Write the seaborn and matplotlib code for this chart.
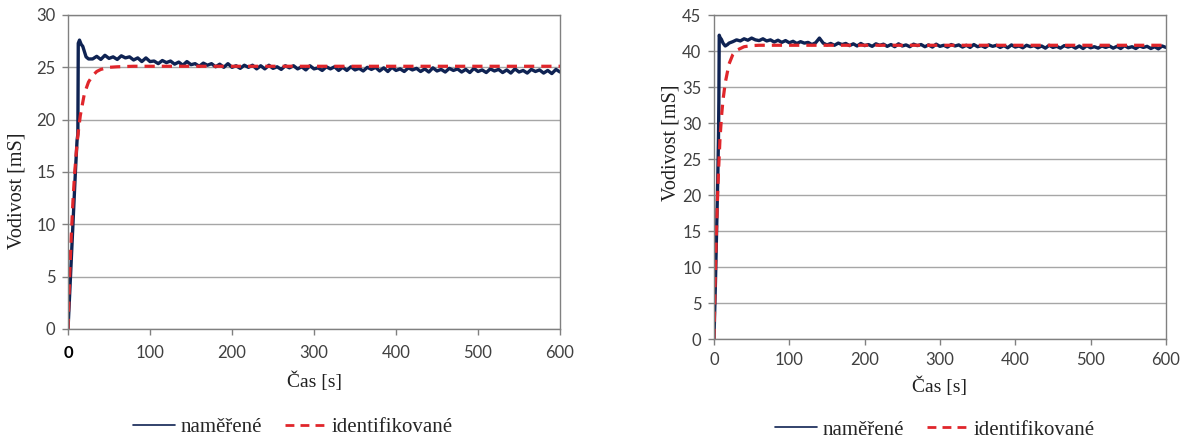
import numpy as np
import pandas as pd
import matplotlib
matplotlib.use("Agg")
import matplotlib.pyplot as plt
from matplotlib.font_manager import FontProperties
import seaborn as sns

# ---- data ----
# left chart: measured conductivity (start + tail sampled every 5 s)
left_meas_t_head = [0, 3, 6, 9, 11, 12, 12.5, 14, 16, 18, 20, 22]
left_meas_y_head = [0, 5, 10, 15, 18, 18.6, 27.3, 27.6, 27.2, 27.0, 26.5, 26.0]
left_meas_y_tail = [
    25.8, 25.8, 26.05, 25.75, 26.15, 25.85, 26.0, 25.75, 26.1, 25.9,
    26.0, 25.7, 25.9, 25.55, 25.9, 25.55, 25.6, 25.35, 25.65, 25.45,
    25.6, 25.3, 25.5, 25.2, 25.55, 25.25, 25.35, 25.1, 25.4, 25.2,
    25.35, 25.05, 25.3, 25.0, 25.35, 25.0, 25.15, 24.9, 25.2, 25.0,
    25.2, 24.85, 25.15, 24.85, 25.2, 24.9, 25.05, 24.8, 25.15, 24.95,
    25.15, 24.85, 25.05, 24.75, 25.15, 24.85, 24.95, 24.7, 25.05, 24.85,
    25.05, 24.7, 25.0, 24.7, 25.05, 24.75, 24.9, 24.65, 25.0, 24.8,
    25.0, 24.65, 24.95, 24.6, 25.0, 24.7, 24.85, 24.6, 24.95, 24.75,
    24.9, 24.6, 24.85, 24.55, 24.95, 24.65, 24.8, 24.55, 24.9, 24.7,
    24.85, 24.55, 24.8, 24.5, 24.9, 24.6, 24.75, 24.5, 24.85, 24.65,
    24.8, 24.5, 24.75, 24.45, 24.85, 24.55, 24.7, 24.45, 24.8, 24.6,
    24.75, 24.45, 24.7, 24.4, 24.8, 24.55,
]
left_ident_t = [0, 1, 2, 3, 4, 6, 8, 10, 12, 15, 20, 25, 30, 35, 40, 50, 60, 80, 100, 200, 300, 400, 500, 600]
left_ident_y = [0, 2.6, 5.0, 7.1, 9.0, 12.2, 14.8, 16.8, 18.5, 20.4, 22.5, 23.6, 24.2, 24.6, 24.8,
                25.0, 25.05, 25.1, 25.1, 25.1, 25.1, 25.1, 25.1, 25.1]

# right chart
right_meas_t_head = [0, 2, 4, 5, 6, 6.5, 7, 8, 10, 12, 15, 18, 20]
right_meas_y_head = [0, 8, 17, 22, 28, 33, 42.2, 41.9, 41.6, 41.1, 40.7, 40.9, 41.1]
right_meas_y_tail = [
    41.3, 41.55, 41.4, 41.7, 41.5, 41.8, 41.55, 41.45, 41.7, 41.4,
    41.55, 41.25, 41.5, 41.2, 41.45, 41.15, 41.35, 41.05, 41.3, 41.1,
    41.2, 40.9, 41.15, 41.8, 41.1, 40.85, 41.05, 40.8, 41.1, 40.9,
    41.05, 40.75, 41.0, 40.7, 41.05, 40.75, 40.9, 40.65, 41.0, 40.8,
    40.95, 40.65, 40.9, 40.6, 41.0, 40.7, 40.85, 40.6, 40.95, 40.75,
    40.9, 40.6, 40.85, 40.55, 40.95, 40.65, 40.8, 40.55, 40.9, 40.7,
    40.85, 40.55, 40.8, 40.5, 40.9, 40.6, 40.75, 40.5, 40.85, 40.65,
    40.8, 40.5, 40.75, 40.45, 40.85, 40.55, 40.7, 40.45, 40.8, 40.6,
    40.75, 40.45, 40.7, 40.4, 40.8, 40.5, 40.65, 40.4, 40.75, 40.55,
    40.7, 40.4, 40.7, 40.35, 40.75, 40.45, 40.6, 40.4, 40.7, 40.5,
    40.7, 40.4, 40.65, 40.35, 40.75, 40.45, 40.6, 40.35, 40.7, 40.5,
    40.65, 40.35, 40.6, 40.3, 40.7, 40.5,
]
right_ident_t = [0, 1, 2, 3, 4, 5, 6, 8, 10, 12, 15, 20, 25, 30, 40, 50, 60, 100, 200, 300, 400, 500, 600]
right_ident_y = [0, 5.2, 9.8, 13.8, 17.3, 20.5, 23.2, 27.8, 30.9, 33.2, 35.6, 38.2, 39.5, 40.1, 40.6,
                 40.75, 40.8, 40.8, 40.8, 40.8, 40.8, 40.8, 40.8]

tail_t = np.arange(25, 601, 5)  # tail samples every 5 s
x_ticks = [0, 100, 200, 300, 400, 500, 600]
left_yticks = [0, 5, 10, 15, 20, 25, 30]
right_yticks = [0, 5, 10, 15, 20, 25, 30, 35, 40, 45]

label_meas = "naměřené"
label_ident = "identifikované"
navy = "#0f2353"
red = "#e0262b"
tick_color = "#404040"

sns.set_style("white")
plt.rcParams["font.family"] = ["Lato", "DejaVu Sans"]
serif = ["Liberation Serif", "DejaVu Serif"]

fig = plt.figure(figsize=(11.85, 4.42), dpi=100)
ax1 = fig.add_axes([0.0574, 0.2557, 0.4152, 0.7104])
ax2 = fig.add_axes([0.6025, 0.2330, 0.3814, 0.7330])


def draw(ax, mt, my, it, iy, yticks, xpad):
    meas = pd.DataFrame({"t": mt, "y": my})
    ident = pd.DataFrame({"t": it, "y": iy})
    sns.lineplot(data=meas, x="t", y="y", ax=ax, color=navy, lw=2.4,
                 sort=False, estimator=None, label=label_meas)
    sns.lineplot(data=ident, x="t", y="y", ax=ax, color=red, lw=2.3,
                 sort=False, estimator=None, label=label_ident)
    ax.lines[1].set_dashes((3.2, 2.2))
    ax.set_xlim(0, 600)
    ax.set_ylim(0, yticks[-1])
    ax.set_xticks(x_ticks)
    ax.set_yticks(yticks)
    ax.grid(axis="y", color="#a6a6a6", lw=1)
    ax.set_axisbelow(True)
    for s in ax.spines.values():
        s.set_color("#808080")
        s.set_linewidth(1)
    ax.tick_params(axis="both", direction="out", length=4, width=1, color="#808080",
                   labelsize=12, labelcolor=tick_color, left=True, bottom=True)
    ax.tick_params(axis="x", pad=xpad)
    ax.tick_params(axis="y", pad=5)
    ax.set_xlabel("Čas [s]", family=serif, fontsize=14, color="#202020")
    ax.set_ylabel("Vodivost [mS]", family=serif, fontsize=14.5, color="#202020")
    ax.get_legend().remove()


draw(ax1, list(left_meas_t_head) + list(tail_t), left_meas_y_head + left_meas_y_tail,
     left_ident_t, left_ident_y, left_yticks, 7.5)
draw(ax2, list(right_meas_t_head) + list(tail_t), right_meas_y_head + right_meas_y_tail,
     right_ident_t, right_ident_y, right_yticks, 5.5)

ax1.xaxis.set_label_coords(0.5, -0.134)
ax2.xaxis.set_label_coords(0.5, -0.117)
ax1.yaxis.set_label_coords(-0.085, 0.44)
ax2.yaxis.set_label_coords(-0.075, 0.605)
# the first tick label of the left chart is bold black in the original
first = ax1.get_xticklabels()[0]
first.set_fontweight("bold")
first.set_color("black")

legend_font = FontProperties(family=serif, size=15)
for ax, cx, cy in [(ax1, 293 / 1185, 1 - 427 / 442), (ax2, 935 / 1185, 1 - 430 / 442)]:
    h, l = ax.get_legend_handles_labels()
    leg = fig.legend(h, l, loc="center", bbox_to_anchor=(cx, cy), ncol=2, frameon=False,
                     prop=legend_font, handlelength=2.0, handletextpad=0.25,
                     columnspacing=1.1)
    leg.get_lines()[0].set_linewidth(1.2)
    leg.get_lines()[1].set_linewidth(2.0)

fig.savefig("out.png", dpi=100)
